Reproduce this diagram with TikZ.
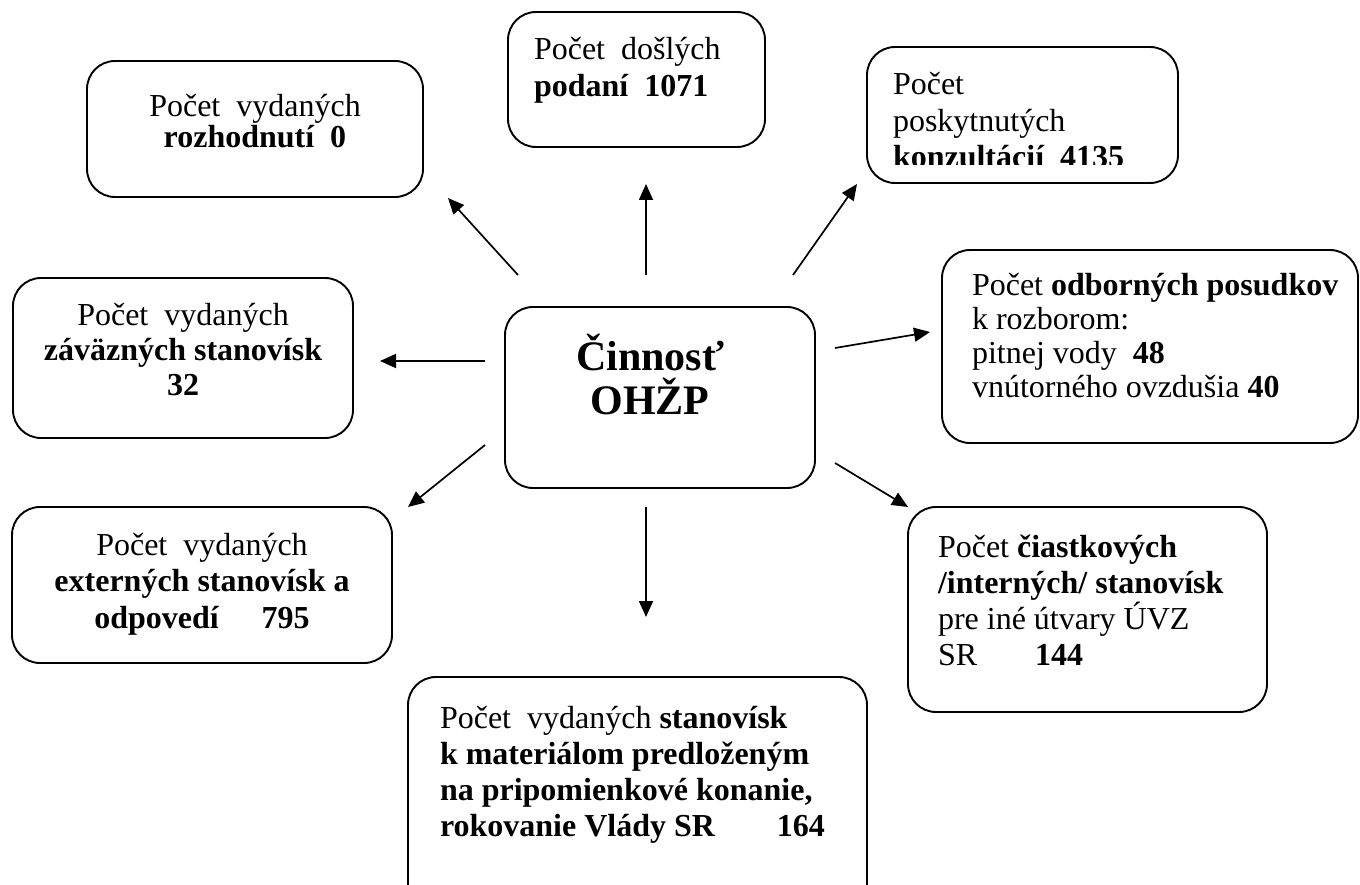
\documentclass[tikz,border=0pt]{standalone}
\usepackage{fontspec}
\setmainfont{Liberation Serif}
\usetikzlibrary{arrows.meta}
\newcommand{\tp}{\rule{0pt}{40pt}}
\tikzset{
  box/.style={draw=black, line width=1.9pt, rounded corners=28pt, inner sep=0pt, fill=none},
  txt/.style={inner sep=0pt, outer sep=0pt, text=black},
  arr/.style={draw=black, line width=1.7pt, -{Triangle[length=16pt,width=14pt]}},
}
\begin{document}
\begin{tikzpicture}[x=1pt,y=-1pt]
\clip (0,0) rectangle (1360,885);
\fill[white] (0,0) rectangle (1360,885);
% boxes
\node[box, minimum width=336pt, minimum height=136pt] (b1) at (255,129) {};
\node[box, minimum width=257pt, minimum height=135pt] (b2) at (636.5,79.5) {};
\node[box, minimum width=311pt, minimum height=136pt] (b3) at (1022.5,115) {};
\node[box, minimum width=416pt, minimum height=193pt] (b4) at (1150,346.5) {};
\node[box, minimum width=359pt, minimum height=205pt] (b5) at (1087.5,609.5) {};
\node[box, minimum width=459pt, minimum height=243pt] (b6) at (637.5,798.5) {};
\node[box, minimum width=380pt, minimum height=156pt] (b7) at (202,585) {};
\node[box, minimum width=340pt, minimum height=160pt] (b8) at (183,358) {};
\node[box, minimum width=310pt, minimum height=181pt] (c) at (660,397.5) {};
% texts
\node[txt, anchor=north, align=center, font=\fontsize{32}{29}\selectfont] (t1) at (255,77)
  {\tp Počet\ \ vydaných\\ \textbf{rozhodnutí\ \ 0}};
\node[txt, anchor=north west, align=left, font=\fontsize{32}{37}\selectfont] (t2) at (534,20)
  {\tp Počet\ \ došlých\\ \textbf{podaní\ \ 1071}};
\begin{scope}
\clip (860,40) rectangle (1190,165);
\node[txt, anchor=north west, align=left, font=\fontsize{32}{36.5}\selectfont] (t3) at (893,55)
  {\tp Počet\\ poskytnutých\\ \textbf{konzultácií\ \ 4135}};
\end{scope}
\node[txt, anchor=north west, align=left, font=\fontsize{32}{34}\selectfont] (t4) at (972,255)
  {\tp Počet \textbf{odborných posudkov}\\ k rozborom:\\ pitnej vody\ \ \textbf{48}\\ vnútorného ovzdušia \textbf{40}};
\node[txt, anchor=north west, align=left, font=\fontsize{32}{36}\selectfont] (t5) at (938,517)
  {\tp Počet \textbf{čiastkových}\\ \textbf{/interných/ stanovísk}\\ pre iné útvary ÚVZ\\ SR\hspace{58pt}\textbf{144}};
\node[txt, anchor=north west, align=left, font=\fontsize{32}{36.3}\selectfont] (t6) at (440,688)
  {\tp Počet\ \ vydaných \textbf{stanovísk}\\ \textbf{k materiálom predloženým}\\ \textbf{na pripomienkové konanie,}\\ \textbf{rokovanie Vlády SR\hspace{62pt}164}};
\node[txt, anchor=north, align=center, font=\fontsize{32}{36.5}\selectfont] (t7) at (202,515)
  {\tp Počet\ \ vydaných\\ \textbf{externých stanovísk a}\\ \textbf{odpovedí\hspace{43pt}795}};
\node[txt, anchor=north, align=center, font=\fontsize{32}{35}\selectfont] (t8) at (183,285)
  {\tp Počet\ \ vydaných\\ \textbf{záväzných stanovísk}\\ \textbf{32}};
\node[txt, anchor=north, align=center, font=\fontsize{42}{44}\selectfont\bfseries] (tc) at (650,320)
  {\rule{0pt}{50pt}Činnosť\\ OHŽP};
% arrow end points
\coordinate (a1s) at (518,275); \coordinate (a1e) at (448,198);
\coordinate (a2s) at (646,275); \coordinate (a2e) at (646,184);
\coordinate (a3s) at (793,275); \coordinate (a3e) at (857,184);
\coordinate (a4s) at (835,348); \coordinate (a4e) at (930,332);
\coordinate (a5s) at (835,463); \coordinate (a5e) at (908,507);
\coordinate (a6s) at (646,507); \coordinate (a6e) at (646,617);
\coordinate (a7s) at (485,445); \coordinate (a7e) at (408,507);
\coordinate (a8s) at (485,361); \coordinate (a8e) at (380,361);
\draw[arr] (a1s) -- (a1e);
\draw[arr] (a2s) -- (a2e);
\draw[arr] (a3s) -- (a3e);
\draw[arr] (a4s) -- (a4e);
\draw[arr] (a5s) -- (a5e);
\draw[arr] (a6s) -- (a6e);
\draw[arr] (a7s) -- (a7e);
\draw[arr] (a8s) -- (a8e);
\end{tikzpicture}
\end{document}
